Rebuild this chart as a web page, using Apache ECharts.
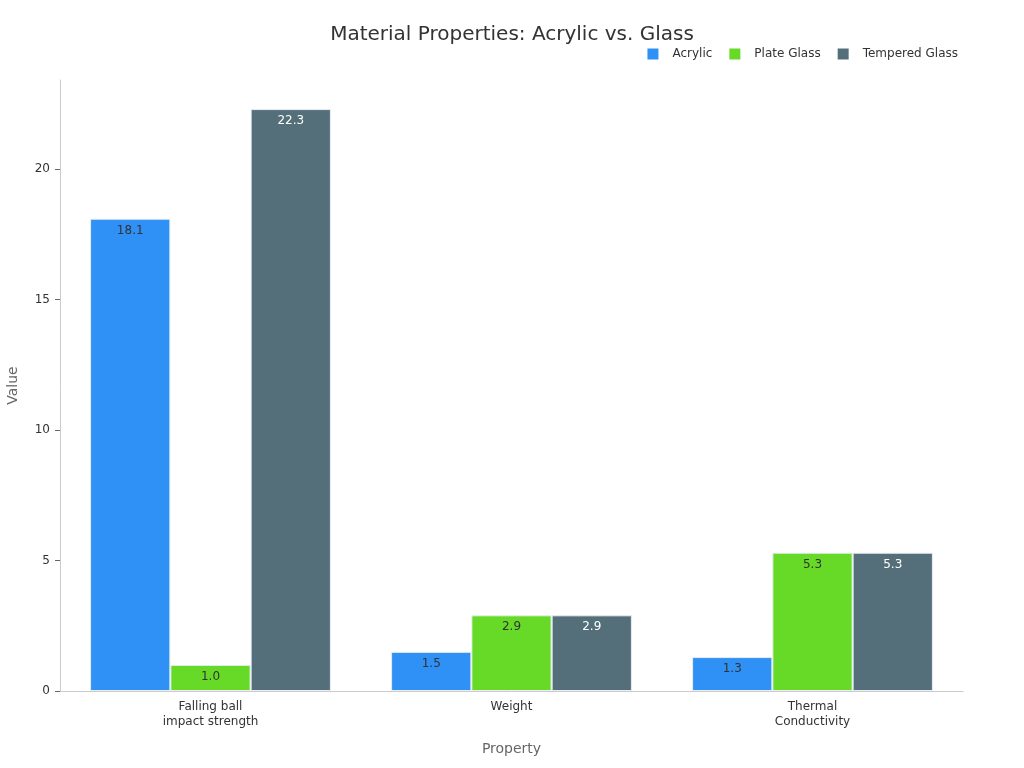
<!DOCTYPE html>
<html>
<head>
<meta charset="utf-8">
<script src="https://cdn.jsdelivr.net/npm/echarts@6/dist/echarts.min.js"></script>
<style>html,body{margin:0;padding:0;background:#fff}#c{width:1024px;height:768px}</style>
</head>
<body>
<div id="c"></div>
<script>
var categories = ['Falling ball\nimpact strength', 'Weight', 'Thermal\nConductivity'];
var acrylic = [18.1, 1.5, 1.3];
var plateGlass = [1.0, 2.9, 5.3];
var temperedGlass = [22.3, 2.9, 5.3];
var seriesNames = ['Acrylic', 'Plate Glass', 'Tempered Glass'];
var yTicks = [0, 5, 10, 15, 20];
var colors = ['#2f91f5', '#66da26', '#546e7a'];
var labelColors = ['#333', '#333', '#fff'];
var yMax = 23.415;

var chart = echarts.init(document.getElementById('c'));
var font = 'DejaVu Sans';
function mk(i, data) {
  return {
    name: seriesNames[i],
    type: 'bar',
    data: data,
    barGap: '0%',
    barCategoryGap: '20%',
    itemStyle: { color: colors[i], borderColor: '#e8eef2', borderWidth: 1 },
    label: {
      show: true, position: 'insideTop', distance: 6,
      color: labelColors[i], fontSize: 12, fontFamily: font,
      formatter: function (p) { return p.value.toFixed(1); }
    }
  };
}
chart.setOption({
  animation: false,
  textStyle: { fontFamily: font },
  title: {
    text: 'Material Properties: Acrylic vs. Glass',
    left: 'center', top: 20,
    textStyle: { fontSize: 20, fontWeight: 'normal', color: '#333', fontFamily: font }
  },
  legend: {
    data: seriesNames, right: 61, top: 43,
    itemWidth: 11, itemHeight: 11, itemGap: 17,
    icon: 'rect',
    itemStyle: { borderWidth: 0 },
    textStyle: { fontSize: 12, color: '#333', fontFamily: font, padding: [0, 0, 0, 9] }
  },
  grid: { left: 60, right: 61, top: 80, bottom: 77, outerBoundsMode: 'none', containLabel: false },
  xAxis: {
    type: 'category', data: categories,
    name: 'Property', nameLocation: 'middle', nameGap: 51,
    nameTextStyle: { fontSize: 14, color: '#666', fontFamily: font },
    axisLine: { lineStyle: { color: '#ccc' } },
    axisTick: { alignWithLabel: true, lineStyle: { color: '#666' } },
    axisLabel: { fontSize: 12, color: '#333', lineHeight: 15, fontFamily: font }
  },
  yAxis: {
    type: 'value', min: 0, max: yMax,
    name: 'Value', nameLocation: 'middle', nameGap: 40,
    nameTextStyle: { fontSize: 14, color: '#666', fontFamily: font },
    axisLine: { show: true, lineStyle: { color: '#ccc' } },
    axisTick: { show: true, customValues: yTicks, lineStyle: { color: '#666' } },
    splitLine: { show: false },
    axisLabel: {
      fontSize: 12, color: '#333', fontFamily: font, margin: 10,
      customValues: yTicks
    }
  },
  series: [mk(0, acrylic), mk(1, plateGlass), mk(2, temperedGlass)]
});
</script>
</body>
</html>
